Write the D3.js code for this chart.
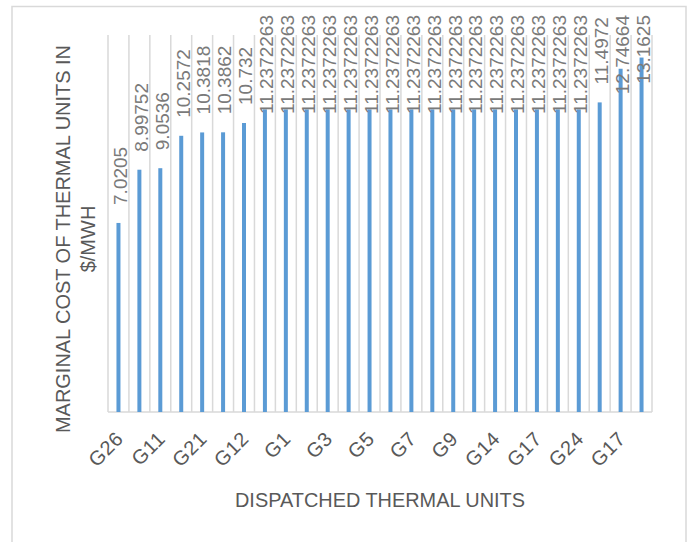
<!DOCTYPE html>
<html>
<head>
<meta charset="utf-8">
<script src="https://cdn.jsdelivr.net/npm/d3@7/dist/d3.min.js"></script>
<style>
  html, body { margin: 0; padding: 0; background: #fff; }
  svg { display: block; }
  text { font-family: "Liberation Sans", "DejaVu Sans", sans-serif; }
</style>
</head>
<body>
<svg id="chart" width="691" height="542"></svg>
<script>
// ---- data ----
const units = ["G26","G10","G11","G20","G21","G22","G12","G13","G1","G2","G3","G4","G5","G6","G7","G8","G9","G14","G14b","G15","G17","G18","G24","G25","G17b","G19"];
const tickLabels = ["G26","","G11","","G21","","G12","","G1","","G3","","G5","","G7","","G9","","G14","","G17","","G24","","G17",""];
const costs = [7.0205, 8.99752, 9.0536, 10.2572, 10.3818, 10.3862, 10.732,
  11.2372263, 11.2372263, 11.2372263, 11.2372263, 11.2372263, 11.2372263, 11.2372263, 11.2372263,
  11.2372263, 11.2372263, 11.2372263, 11.2372263, 11.2372263, 11.2372263, 11.2372263, 11.2372263,
  11.4972, 12.74664, 13.1625];
const costLabels = ["7.0205","8.99752","9.0536","10.2572","10.3818","10.3862","10.732",
  "11.2372263","11.2372263","11.2372263","11.2372263","11.2372263","11.2372263","11.2372263","11.2372263",
  "11.2372263","11.2372263","11.2372263","11.2372263","11.2372263","11.2372263","11.2372263","11.2372263",
  "11.4972","12.74664","13.1625"];
const yDomain = [0, 14];
const xTitle = "DISPATCHED THERMAL UNITS";
const yTitleLines = ["MARGINAL COST OF THERMAL UNITS IN", "$/MWH"];

// ---- layout ----
const svg = d3.select("#chart");
const plot = { left: 108, right: 652, top: 35, bottom: 412 };
const x = d3.scaleBand().domain(d3.range(costs.length)).range([plot.left, plot.right]).padding(0);
const y = d3.scaleLinear().domain(yDomain).range([plot.bottom, plot.top]);

// outer border
svg.append("rect").attr("x", 12).attr("y", 6.5).attr("width", 674).attr("height", 560)
  .attr("fill", "none").attr("stroke", "#d9d9d9").attr("stroke-width", 1.5);

// vertical gridlines at category boundaries
const bounds = d3.range(costs.length + 1).map(i => i < costs.length ? x(i) : plot.right);
svg.append("g").selectAll("line").data(bounds).join("line")
  .attr("x1", d => d).attr("x2", d => d)
  .attr("y1", plot.top).attr("y2", plot.bottom)
  .attr("stroke", "#d9d9d9").attr("stroke-width", 1.5);

// bottom axis line
svg.append("line").attr("x1", plot.left).attr("x2", plot.right)
  .attr("y1", plot.bottom).attr("y2", plot.bottom)
  .attr("stroke", "#d9d9d9").attr("stroke-width", 1.5);

// bars
const bw = 4;
svg.append("g").selectAll("rect").data(costs).join("rect")
  .attr("x", (d, i) => x(i) + x.bandwidth() / 2 - bw / 2)
  .attr("width", bw)
  .attr("y", d => y(d))
  .attr("height", d => y(0) - y(d))
  .attr("fill", "#5b9bd5");

// data labels (rotated)
const lg = svg.append("g");
costs.forEach((d, i) => {
  const cx = x(i) + x.bandwidth() / 2 + 1.5;
  const t = lg.append("text")
    .attr("font-size", 19)
    .attr("fill", "#7a7a7a")
    .attr("text-anchor", "start")
    .attr("dy", "0.36em")
    .text(costLabels[i]);
  const len = t.node().getComputedTextLength();
  const startY = Math.max(y(d) - 18, 15 + len);
  t.attr("transform", `translate(${cx},${startY}) rotate(-90)`);
});

// x tick labels
svg.append("g").selectAll("text").data(tickLabels).join("text")
  .attr("font-size", 20)
  .attr("fill", "#595959")
  .attr("letter-spacing", 0.5)
  .attr("text-anchor", "end")
  .attr("transform", (d, i) => `translate(${x(i) + x.bandwidth() / 2 + 1},${435}) rotate(-45)`)
  .attr("dy", "0.36em")
  .text(d => d);

// x title
svg.append("text")
  .attr("x", 380).attr("y", 507)
  .attr("text-anchor", "middle")
  .attr("font-size", 20)
  .attr("fill", "#595959")
  .attr("textLength", 290).attr("lengthAdjust", "spacingAndGlyphs")
  .text(xTitle);

// y title
const yt = svg.append("text")
  .attr("transform", "translate(70,239) rotate(-90)")
  .attr("text-anchor", "middle")
  .attr("font-size", 20)
  .attr("fill", "#595959");
yt.append("tspan").attr("x", 0).attr("y", 0).attr("textLength", 388).attr("lengthAdjust", "spacingAndGlyphs").text(yTitleLines[0]);
yt.append("tspan").attr("x", 0).attr("y", 25).text(yTitleLines[1]);
</script>
</body>
</html>
